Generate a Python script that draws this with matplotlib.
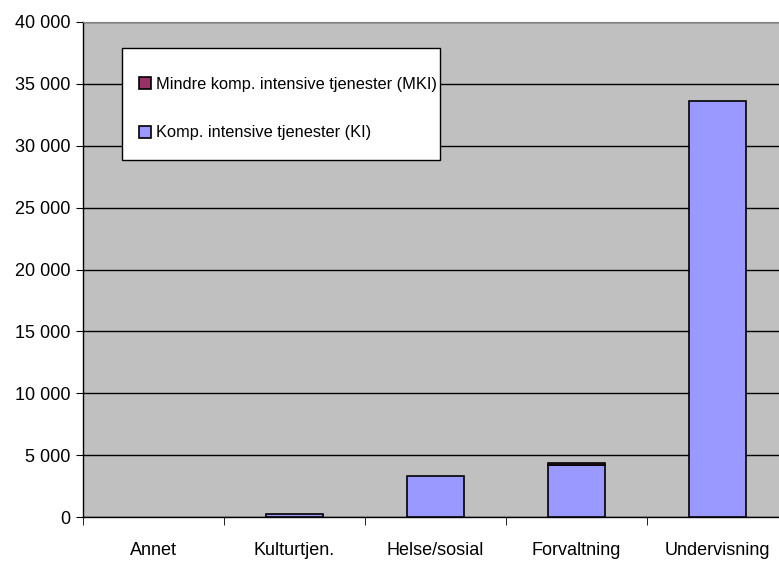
import numpy as np
import matplotlib.pyplot as plt
from matplotlib.patches import Rectangle, Patch
from matplotlib.ticker import FuncFormatter, MultipleLocator

plt.rcParams['font.family'] = ['Liberation Sans', 'DejaVu Sans']

# sysselsatte per naering
kategorier = ['Annet', 'Kulturtjen.', 'Helse/sosial', 'Forvaltning', 'Undervisning']
ki = [0, 300, 3300, 4200, 33600]
mki = [0, 0, 0, 150, 0]

farge_ki = '#9999FF'
farge_mki = '#993366'

W, H = 779, 562
fig = plt.figure(figsize=(W / 100, H / 100), dpi=100)
# plot area runs a little past the right edge of the figure
ax = fig.add_axes([83 / W, (H - 517.3) / H, 705 / W, (517.3 - 21.8) / H])
ax.set_facecolor('#C0C0C0')

x = np.arange(len(kategorier))
b1 = ax.bar(x, ki, width=0.4, color=farge_ki, edgecolor='black', linewidth=1.2, zorder=3)
b2 = ax.bar(x, mki, width=0.4, bottom=ki, color=farge_mki, edgecolor='black', linewidth=1.2, zorder=3)
# zero-height bars should not leave an outline behind
for bars in (b1, b2):
    for r in bars:
        if r.get_height() == 0:
            r.set_linewidth(0)

ax.set_xlim(-0.5, len(kategorier) - 0.5)
ax.set_ylim(0, 40000)
ax.yaxis.set_major_locator(MultipleLocator(5000))
ax.yaxis.set_major_formatter(FuncFormatter(lambda v, p: f'{int(v):,}'.replace(',', ' ')))
ax.grid(axis='y', color='black', linewidth=1, zorder=1)
ax.set_axisbelow(True)

ax.set_xticks(x)
ax.set_xticklabels(kategorier)
ax.set_xticks(np.arange(len(kategorier)) - 0.5, minor=True)
ax.tick_params(axis='x', which='major', length=0, pad=18, labelsize=13)
ax.tick_params(axis='x', which='minor', length=6, direction='out', color='black')
ax.tick_params(axis='y', length=5, direction='out', labelsize=13, pad=4)

for s in ['left', 'bottom']:
    ax.spines[s].set_color('black')
    ax.spines[s].set_linewidth(1)
ax.spines['right'].set_visible(False)
ax.spines['top'].set_color('#808080')

# legend box drawn separately so its padding can differ per side
box = Rectangle((121.7 / W, 1 - 160 / H), (440 - 121.7) / W, (160 - 47.7) / H,
                transform=fig.transFigure, facecolor='white', edgecolor='black',
                linewidth=1, zorder=4, clip_on=False)
ax.add_patch(box)
handles = [Patch(facecolor=farge_mki, edgecolor='black', linewidth=1.2,
                 label='Mindre komp. intensive tjenester (MKI)'),
           Patch(facecolor=farge_ki, edgecolor='black', linewidth=1.2,
                 label='Komp. intensive tjenester (KI)')]
leg = ax.legend(handles=handles, loc='upper left',
                bbox_to_anchor=(139 / W, 1 - 77 / H), bbox_transform=fig.transFigure,
                fontsize=11.75, frameon=False, handlelength=0.72, handleheight=0.72,
                handletextpad=0.35, labelspacing=2.05, borderpad=0, borderaxespad=0)
leg.set_zorder(5)

fig.savefig('out.png', dpi=100)
